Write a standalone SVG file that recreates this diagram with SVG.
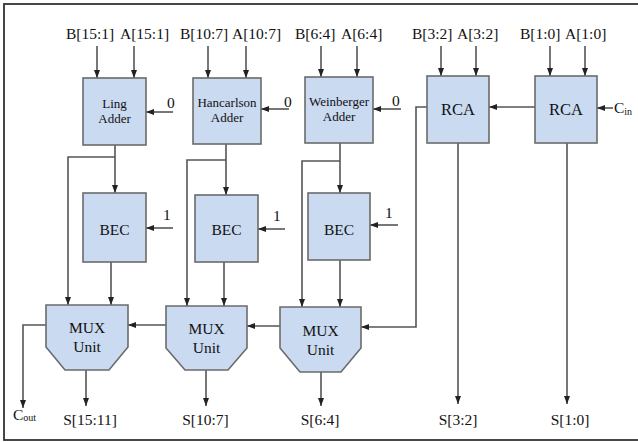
<svg xmlns="http://www.w3.org/2000/svg" width="638" height="442" viewBox="0 0 638 442">
<defs>
<style>
.box{fill:#c9daf1;stroke:#6b6b6b;stroke-width:1.6}
.ln{fill:none;stroke:#555;stroke-width:1.6}
.t{font-family:"Liberation Serif","Times New Roman",serif;font-size:15.5px;fill:#111}
.s{font-family:"Liberation Serif","Times New Roman",serif;font-size:13px;fill:#111;text-anchor:middle}
.m{text-anchor:middle}
.sub{font-size:10px}
</style>
<marker id="ah" viewBox="0 0 8 6" refX="8" refY="3" markerWidth="8" markerHeight="6" markerUnits="userSpaceOnUse" orient="auto">
<path d="M0,0 L8,3 L0,6 z" fill="#222"/>
</marker>
</defs>
<rect x="4" y="4" width="640" height="436" fill="#fff" stroke="#333" stroke-width="1.8"/>

<g id="labels-top" class="t">
<text x="66" y="39">B[15:1]</text><text x="120" y="39">A[15:1]</text>
<text x="180" y="39">B[10:7]</text><text x="232" y="39">A[10:7]</text>
<text x="295" y="39">B[6:4]</text><text x="341" y="39">A[6:4]</text>
<text x="412" y="39">B[3:2]</text><text x="457" y="39">A[3:2]</text>
<text x="520" y="39">B[1:0]</text><text x="565" y="39">A[1:0]</text>
</g>

<g id="connectors" class="ln" marker-end="url(#ah)">
<path d="M97,46 V78"/><path d="M134,46 V78"/>
<path d="M208,46 V78"/><path d="M246,46 V78"/>
<path d="M321,46 V77"/><path d="M357,46 V77"/>
<path d="M441,46 V76"/><path d="M476,46 V76"/>
<path d="M550,46 V76"/><path d="M585,46 V76"/>
<path d="M173,112 H146"/><path d="M289,109 H261"/><path d="M401,109 H373"/>
<path d="M173,228 H146"/><path d="M285,229 H258"/><path d="M398,225 H370"/>
<path d="M115,145 V193"/><path d="M115,157 H68 V305"/>
<path d="M111,262 V305"/>
<path d="M46,325 H23 V408"/>
<path d="M86,370 V406"/>
<path d="M226,144 V195"/><path d="M226,160 H187 V306"/>
<path d="M224,262 V306"/>
<path d="M166,325 H128"/>
<path d="M206,370 V406"/>
<path d="M340,143 V193"/><path d="M340,161 H302 V307"/>
<path d="M340,260 V307"/>
<path d="M280,326 H247"/>
<path d="M321,372 V406"/>
<path d="M427,107 H416 V327 H361"/>
<path d="M535,107 H489"/>
<path d="M613,108 H597"/>
<path d="M458,143 V404"/>
<path d="M567,143 V404"/>
</g>

<g id="ling">
<rect class="box" x="83" y="78" width="63" height="67"/>
<text class="s" x="114.5" y="108">Ling</text><text class="s" x="114.5" y="123">Adder</text>
</g>
<g id="hancarlson">
<rect class="box" x="193" y="78" width="68" height="66"/>
<text class="s" x="227" y="107">Hancarlson</text><text class="s" x="227" y="122">Adder</text>
</g>
<g id="weinberger">
<rect class="box" x="305" y="77" width="68" height="66"/>
<text class="s" x="339" y="106">Weinberger</text><text class="s" x="339" y="121">Adder</text>
</g>
<g id="rca1">
<rect class="box" x="427" y="76" width="62" height="67"/>
<text class="t m" x="458" y="115" style="font-size:16.5px">RCA</text>
</g>
<g id="rca2">
<rect class="box" x="535" y="76" width="62" height="67"/>
<text class="t m" x="566" y="115" style="font-size:16.5px">RCA</text>
</g>
<g id="bec1">
<rect class="box" x="83" y="193" width="63" height="69"/>
<text class="t m" x="114.5" y="235">BEC</text>
</g>
<g id="bec2">
<rect class="box" x="195" y="195" width="63" height="67"/>
<text class="t m" x="226.5" y="235">BEC</text>
</g>
<g id="bec3">
<rect class="box" x="308" y="193" width="62" height="67"/>
<text class="t m" x="339" y="235">BEC</text>
</g>
<g id="mux1">
<path class="box" d="M46,305 H128 V347 L109,370 H65 L46,347 Z"/>
<text class="t m" x="87" y="333">MUX</text><text class="t m" x="87" y="352">Unit</text>
</g>
<g id="mux2">
<path class="box" d="M166,306 H247 V348 L228,370 H185 L166,348 Z"/>
<text class="t m" x="206.5" y="334">MUX</text><text class="t m" x="206.5" y="353">Unit</text>
</g>
<g id="mux3">
<path class="box" d="M280,307 H361 V348 L341,372 H300 L280,348 Z"/>
<text class="t m" x="320.5" y="336">MUX</text><text class="t m" x="320.5" y="355">Unit</text>
</g>

<g id="labels-misc" class="t">
<text x="167" y="108">0</text><text x="284" y="107">0</text><text x="392" y="106">0</text>
<text x="163" y="220">1</text><text x="273" y="221">1</text><text x="385" y="218">1</text>
<text x="614" y="113">C<tspan class="sub" dy="2">in</tspan></text>
<text x="13" y="420">C<tspan class="sub" dy="1">out</tspan></text>
</g>
<g id="labels-bottom" class="t m">
<text x="90" y="425">S[15:11]</text>
<text x="205.5" y="425">S[10:7]</text>
<text x="320" y="425">S[6:4]</text>
<text x="458" y="425">S[3:2]</text>
<text x="570" y="425">S[1:0]</text>
</g>
</svg>
